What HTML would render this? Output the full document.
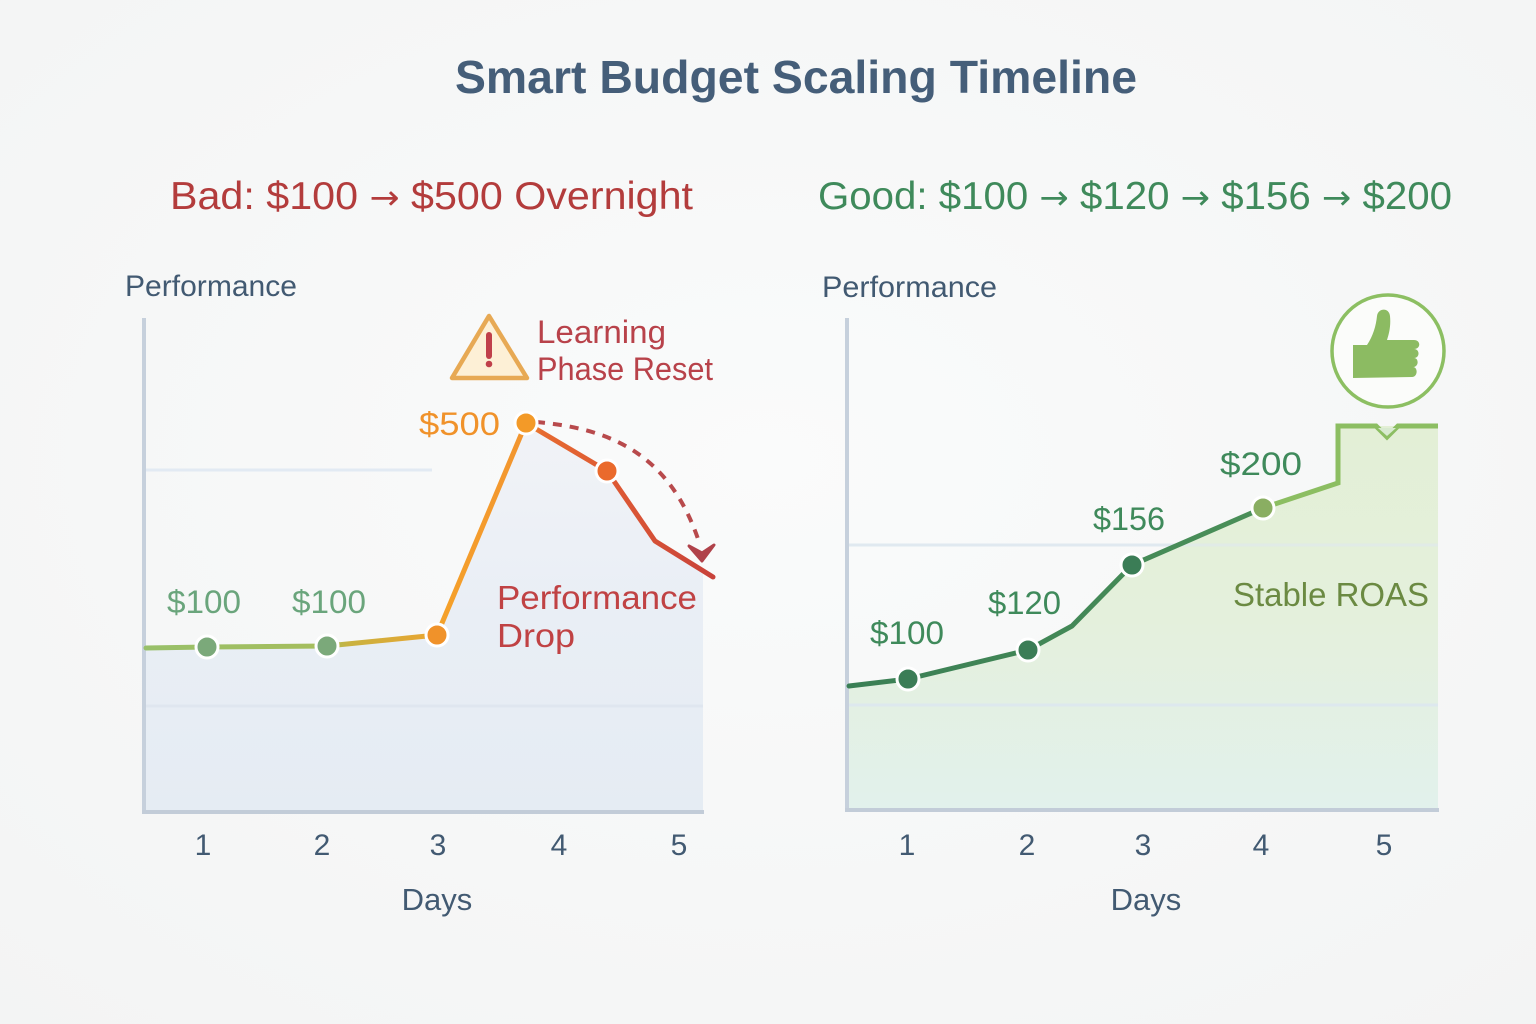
<!DOCTYPE html>
<html>
<head>
<meta charset="utf-8">
<style>
  html,body{margin:0;padding:0;background:#f7f8f8;}
  svg{display:block;}
  text{font-family:"Liberation Sans", sans-serif;}
  .ar{font-family:"DejaVu Sans", sans-serif;}
</style>
</head>
<body>
<svg width="1536" height="1024" viewBox="0 0 1536 1024" xmlns="http://www.w3.org/2000/svg">
  <defs>
    <radialGradient id="bg" cx="50%" cy="45%" r="75%">
      <stop offset="0" stop-color="#fafbfb"/>
      <stop offset="1" stop-color="#f3f4f4"/>
    </radialGradient>
    <linearGradient id="fillL" x1="0" y1="0" x2="0" y2="1">
      <stop offset="0" stop-color="#f1f3f7"/>
      <stop offset="0.5" stop-color="#e9eef5"/>
      <stop offset="1" stop-color="#e5ecf3"/>
    </linearGradient>
    <linearGradient id="fillR" x1="0" y1="0" x2="0" y2="1">
      <stop offset="0" stop-color="#e3efd6"/>
      <stop offset="0.5" stop-color="#e4f0dc"/>
      <stop offset="1" stop-color="#e2f1ec"/>
    </linearGradient>
    <linearGradient id="lineL" gradientUnits="userSpaceOnUse" x1="144" y1="0" x2="713" y2="0">
      <stop offset="0" stop-color="#98c06a"/>
      <stop offset="0.32" stop-color="#a6be5c"/>
      <stop offset="0.36" stop-color="#c9b240"/>
      <stop offset="0.50" stop-color="#e8a632"/>
      <stop offset="0.53" stop-color="#f5a02a"/>
      <stop offset="0.67" stop-color="#f29530"/>
      <stop offset="0.70" stop-color="#e66a30"/>
      <stop offset="0.82" stop-color="#de5a34"/>
      <stop offset="1" stop-color="#c8423a"/>
    </linearGradient>
    <linearGradient id="lineR" gradientUnits="userSpaceOnUse" x1="847" y1="0" x2="1438" y2="0">
      <stop offset="0" stop-color="#3a7f55"/>
      <stop offset="0.69" stop-color="#4a8f58"/>
      <stop offset="0.72" stop-color="#86b85e"/>
      <stop offset="1" stop-color="#8cbe62"/>
    </linearGradient>
  </defs>

  <rect width="1536" height="1024" fill="url(#bg)"/>

  <!-- Title -->
  <text x="455" y="93" font-size="46" font-weight="bold" fill="#455e79" textLength="682" lengthAdjust="spacingAndGlyphs">Smart Budget Scaling Timeline</text>

  <!-- Subtitles -->
  <text x="170" y="209" font-size="39" fill="#b33c3c" textLength="523" lengthAdjust="spacingAndGlyphs">Bad: $100 <tspan class="ar" font-size="34">→</tspan> $500 Overnight</text>
  <text x="818" y="209" font-size="39" fill="#3f8a5b" textLength="634" lengthAdjust="spacingAndGlyphs">Good: $100 <tspan class="ar" font-size="34">→</tspan> $120 <tspan class="ar" font-size="34">→</tspan> $156 <tspan class="ar" font-size="34">→</tspan> $200</text>

  <!-- ================= LEFT CHART ================= -->
  <text x="125" y="296" font-size="30" fill="#425a72" textLength="172" lengthAdjust="spacingAndGlyphs">Performance</text>

  <line x1="146" y1="470" x2="432" y2="470" stroke="#e2eaf3" stroke-width="3"/>
  <polygon points="146,648 207,647 327,646 437,635 526,423 607,471 655,541 703,574 703,811 146,811" fill="url(#fillL)"/>
  <line x1="146" y1="706" x2="703" y2="706" stroke="#dfe6ef" stroke-width="3"/>

  <line x1="144" y1="318" x2="144" y2="813" stroke="#c6d0dc" stroke-width="4"/>
  <line x1="142" y1="812" x2="704" y2="812" stroke="#c2ccd8" stroke-width="4"/>

  <path d="M536,422 C605,428 670,450 700,545" fill="none" stroke="#b84a4c" stroke-width="4" stroke-dasharray="9 8"/>
  <path d="M689,546 L702,561 L714,545 L702,553 Z" fill="#b0424a" stroke="#b0424a" stroke-width="3" stroke-linejoin="round"/>

  <polyline points="146,648 207,647 327,646 437,635 526,423 607,471 655,541 713,577" fill="none" stroke="url(#lineL)" stroke-width="5" stroke-linejoin="round" stroke-linecap="round"/>

  <circle cx="207" cy="647" r="11" fill="#7ba97a" stroke="#ffffff" stroke-width="3"/>
  <circle cx="327" cy="646" r="11" fill="#7ba97a" stroke="#ffffff" stroke-width="3"/>
  <circle cx="437" cy="635" r="11" fill="#f0922a" stroke="#ffffff" stroke-width="3"/>
  <circle cx="526" cy="423" r="11" fill="#f39a28" stroke="#ffffff" stroke-width="3"/>
  <circle cx="607" cy="471" r="11" fill="#ea6a2c" stroke="#ffffff" stroke-width="3"/>

  <text x="167" y="613" font-size="32" fill="#6aa57c" textLength="74" lengthAdjust="spacingAndGlyphs">$100</text>
  <text x="292" y="613" font-size="32" fill="#6aa57c" textLength="74" lengthAdjust="spacingAndGlyphs">$100</text>
  <text x="419" y="435" font-size="32" fill="#f0922a" textLength="81" lengthAdjust="spacingAndGlyphs">$500</text>

  <text x="497" y="609" font-size="33" fill="#c04244" textLength="200" lengthAdjust="spacingAndGlyphs">Performance</text>
  <text x="497" y="647" font-size="33" fill="#c04244" textLength="78" lengthAdjust="spacingAndGlyphs">Drop</text>

  <path d="M489,316 L452,378 L527,378 Z" fill="#fdf0d6" stroke="#e7a954" stroke-width="4.5" stroke-linejoin="round"/>
  <path d="M489,335 L489,356" stroke="#c0404a" stroke-width="6" stroke-linecap="round"/>
  <circle cx="489" cy="364" r="3.3" fill="#c0404a"/>
  <text x="537" y="343" font-size="32" fill="#b8424a" textLength="129" lengthAdjust="spacingAndGlyphs">Learning</text>
  <text x="537" y="380" font-size="32" fill="#b8424a" textLength="176" lengthAdjust="spacingAndGlyphs">Phase Reset</text>

  <g font-size="30" fill="#425a72" text-anchor="middle">
    <text x="203" y="855">1</text>
    <text x="322" y="855">2</text>
    <text x="438" y="855">3</text>
    <text x="559" y="855">4</text>
    <text x="679" y="855">5</text>
    <text x="437" y="910" font-size="31">Days</text>
  </g>

  <!-- ================= RIGHT CHART ================= -->
  <text x="822" y="297" font-size="30" fill="#425a72" textLength="175" lengthAdjust="spacingAndGlyphs">Performance</text>

  <line x1="849" y1="545" x2="1438" y2="545" stroke="#e0e9f2" stroke-width="3"/>
  <polygon points="849,686 908,679 1028,650 1072,626 1132,565 1263,508 1338,483 1338,426 1438,426 1438,809 849,809" fill="url(#fillR)"/>
  <line x1="849" y1="545" x2="1438" y2="545" stroke="#e0e9f0" stroke-width="3" opacity="0.6"/>
  <line x1="849" y1="705" x2="1438" y2="705" stroke="#dde8ee" stroke-width="3"/>

  <line x1="847" y1="318" x2="847" y2="811" stroke="#c6d0dc" stroke-width="4"/>
  <line x1="845" y1="810" x2="1439" y2="810" stroke="#c2ccd8" stroke-width="4"/>

  <polyline points="1263,508 1338,483 1338,426 1376,426 1387,437 1398,426 1438,426" fill="none" stroke="#8cbe62" stroke-width="5" stroke-linejoin="miter"/>
  <polygon points="1378,428 1387,436 1396,428" fill="#d8ead0"/>

  <polyline points="849,686 908,679 1028,650 1072,626 1132,565 1263,508" fill="none" stroke="url(#lineR)" stroke-width="5" stroke-linejoin="round" stroke-linecap="round"/>

  <circle cx="908" cy="679" r="11" fill="#3b7d56" stroke="#ffffff" stroke-width="3"/>
  <circle cx="1028" cy="650" r="11" fill="#3b7d56" stroke="#ffffff" stroke-width="3"/>
  <circle cx="1132" cy="565" r="11" fill="#3b7d56" stroke="#ffffff" stroke-width="3"/>
  <circle cx="1263" cy="508" r="11" fill="#8aae62" stroke="#ffffff" stroke-width="3"/>

  <g font-size="32" fill="#3f8a5b">
    <text x="870" y="644" textLength="74" lengthAdjust="spacingAndGlyphs">$100</text>
    <text x="988" y="614" textLength="73" lengthAdjust="spacingAndGlyphs">$120</text>
    <text x="1093" y="530" textLength="72" lengthAdjust="spacingAndGlyphs">$156</text>
    <text x="1220" y="475" textLength="82" lengthAdjust="spacingAndGlyphs">$200</text>
  </g>
  <text x="1233" y="606" font-size="33" fill="#6b8a42" textLength="196" lengthAdjust="spacingAndGlyphs">Stable ROAS</text>

  <circle cx="1388" cy="351" r="56" fill="#fbfcfa" stroke="#8cbf62" stroke-width="3.5"/>
  <path d="M1353,345 L1367,345 C1373,336 1376,326 1377,316 C1378,308 1389,307 1390,316 C1391,326 1389,334 1387,340 L1414,340 C1421,340 1421,349 1414,349 C1420,349 1420,358 1414,358 C1419,358 1419,367 1413,367 C1418,367 1418,377 1412,377 L1353,378 Z" fill="#8cbb62"/>

  <g font-size="30" fill="#425a72" text-anchor="middle">
    <text x="907" y="855">1</text>
    <text x="1027" y="855">2</text>
    <text x="1143" y="855">3</text>
    <text x="1261" y="855">4</text>
    <text x="1384" y="855">5</text>
    <text x="1146" y="910" font-size="31">Days</text>
  </g>
</svg>
</body>
</html>
